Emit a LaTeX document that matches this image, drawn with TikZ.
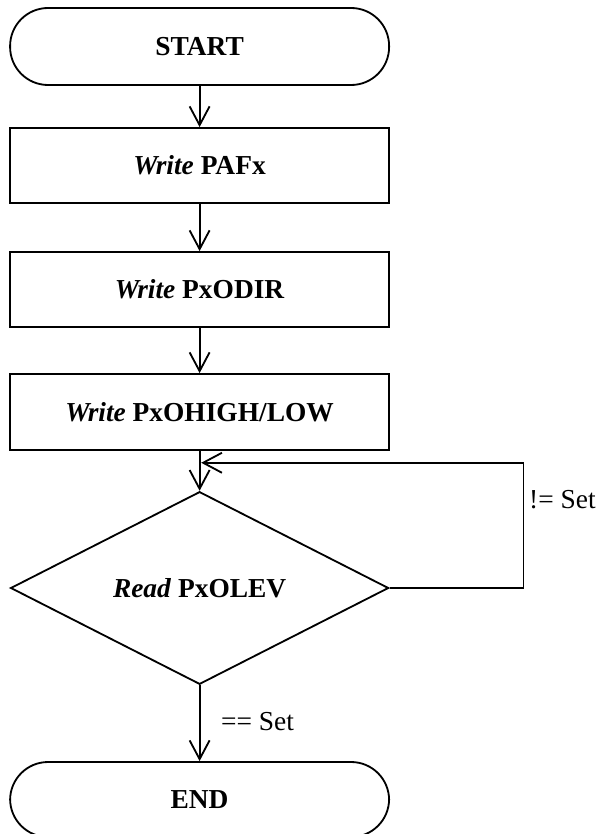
\documentclass[tikz,border=0pt]{standalone}
\usepackage{fontspec}
\setmainfont{Liberation Serif}
\usepackage{tikz}
\usetikzlibrary{shapes, arrows.meta, positioning, calc}

\newcommand{\flowfont}{\fontsize{19.5}{23}\selectfont}

\tikzset{
  term/.style={draw, rounded corners=0.95cm, minimum width=9.475cm, minimum height=1.925cm, font=\flowfont\bfseries},
  procbox/.style={draw, minimum width=9.475cm, minimum height=1.875cm, font=\flowfont\bfseries},
  decide/.style={draw, shape=diamond, minimum width=9.45cm, minimum height=4.75cm, inner sep=0pt, font=\flowfont\bfseries},
  arr/.style={-{Straight Barb[length=4.7mm, width=5mm]}, line join=miter},
  condlabel/.style={font=\flowfont}
}

\begin{document}
\begin{tikzpicture}[line width=1.3pt]
  \useasboundingbox (0,0) rectangle (14.9,-20.85);

  % Terminators and steps
  \node[term] (start) at (4.99,-1.1625) {START};
  \node[procbox] (pafx) at (4.99,-4.1375) {\textit{Write} PAFx};
  \node[procbox] (odir) at (4.99,-7.2375) {\textit{Write} PxODIR};
  \node[procbox, minimum height=1.9cm] (ohigh) at (4.99,-10.3) {\textit{Write} PxOHIGH/LOW};
  \node[decide] (olev) at (4.99,-14.7) {\textit{Read} PxOLEV};
  \node[term, minimum height=1.875cm] (stop) at (4.99,-19.9875) {END};

  % Straight flow
  \draw[arr] (start.south) -- (pafx.north);
  \draw[arr] (pafx.south) -- (odir.north);
  \draw[arr] (odir.south) -- (ohigh.north);
  \draw[arr] (ohigh.south) -- (olev.north);

  % Polling loop
  \coordinate (loopin) at ($(olev.north)+(0.04,0.7)$);
  \draw[arr] (olev.east) -- ++(3.35,0) |- (loopin);
  \node[condlabel] (notset) at (14.06,-12.5) {!= Set};

  % Exit
  \draw[arr] (olev.south) -- (stop.north) node[condlabel, midway, anchor=west, xshift=0.4cm, yshift=0.05cm] (isset) {== Set};
\end{tikzpicture}
\end{document}
